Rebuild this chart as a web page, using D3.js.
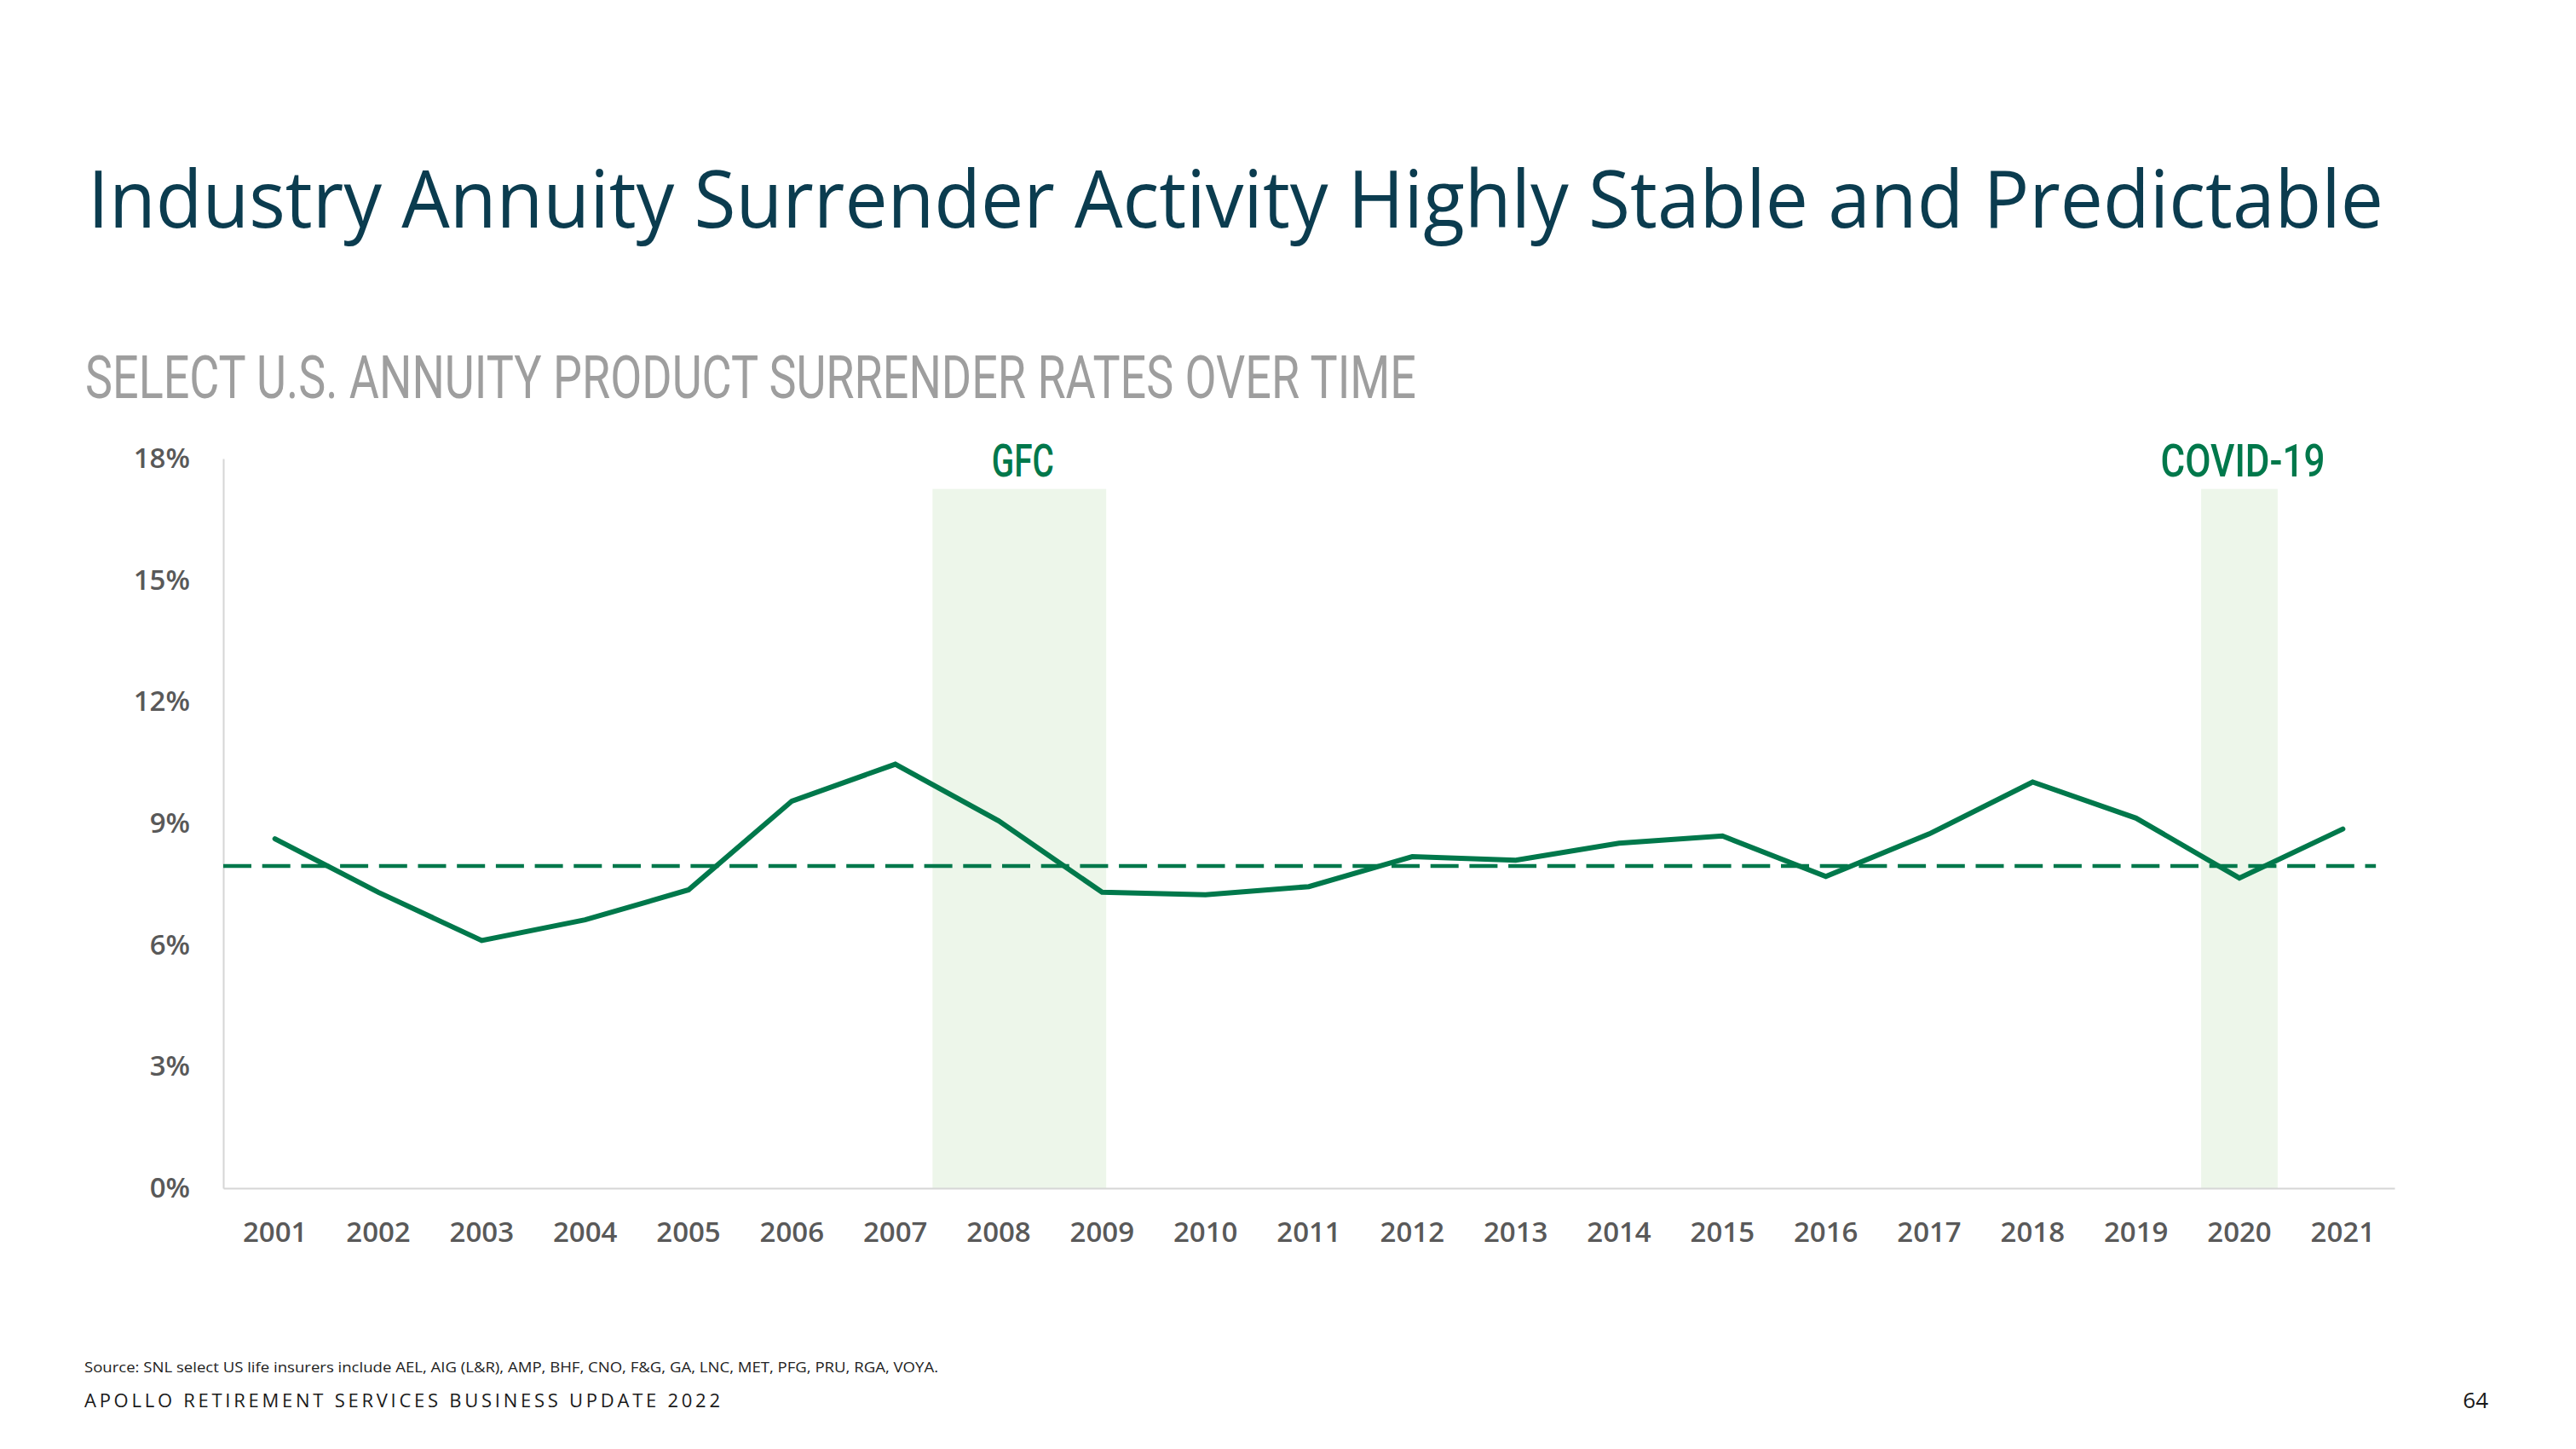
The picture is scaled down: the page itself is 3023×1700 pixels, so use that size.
<!DOCTYPE html>
<html>
<head>
<meta charset="utf-8">
<script src="https://cdn.jsdelivr.net/npm/d3@7"></script>
<style>
  html, body { margin: 0; padding: 0; background: #ffffff; }
  svg { display: block; }
</style>
</head>
<body>
<svg id="chart" width="3023" height="1700"></svg>
<script>
// ---------- data ----------
const years = [2001, 2002, 2003, 2004, 2005, 2006, 2007, 2008, 2009, 2010, 2011,
               2012, 2013, 2014, 2015, 2016, 2017, 2018, 2019, 2020, 2021];
const surrenderRates = [8.62, 7.30, 6.11, 6.62, 7.36, 9.55, 10.46, 9.06, 7.30, 7.24, 7.44,
                        8.18, 8.09, 8.51, 8.69, 7.69, 8.74, 10.02, 9.13, 7.65, 8.86];
const averageRate = 7.95;
const yTicks = [0, 3, 6, 9, 12, 15, 18];
const shadeLabels = ["GFC", "COVID-19"];
const shadeStarts = [2007.36, 2019.63];
const shadeEnds = [2009.04, 2020.37];
const shadeTop = 17.25;

const titleText = "Industry Annuity Surrender Activity Highly Stable and Predictable";
const subtitleText = "SELECT U.S. ANNUITY PRODUCT SURRENDER RATES OVER TIME";
const sourceText = "Source: SNL select US life insurers include AEL, AIG (L&R), AMP, BHF, CNO, F&G, GA, LNC, MET, PFG, PRU, RGA, VOYA.";
const footerText = "APOLLO RETIREMENT SERVICES BUSINESS UPDATE 2022";
const pageNumber = "64";

// ---------- layout ----------
const svg = d3.select("#chart");
const green = "#00784B";
const shadeColor = "#EDF6EA";
const labelGray = "#595959";
const plotLeft = 262, plotRight = 2810, plotTop = 538, plotBottom = 1394;

const x = d3.scaleBand().domain(years).range([plotLeft, plotRight]).padding(0);
const bw = x.bandwidth();
const xYear = d3.scaleLinear()
  .domain([years[0], years[years.length - 1]])
  .range([x(years[0]) + bw / 2, x(years[years.length - 1]) + bw / 2]);
const y = d3.scaleLinear().domain([0, 18]).range([plotBottom, plotTop]);

// title
svg.append("text")
  .attr("x", 103).attr("y", 267)
  .attr("font-family", "'Open Sans', 'Noto Sans', sans-serif")
  .attr("font-size", 94)
  .attr("fill", "#0B3C4F")
  .attr("textLength", 2694)
  .attr("lengthAdjust", "spacingAndGlyphs")
  .text(titleText);

// subtitle
svg.append("text")
  .attr("x", 100).attr("y", 467)
  .attr("font-family", "Roboto, 'Liberation Sans', sans-serif")
  .attr("font-weight", 400)
  .attr("font-size", 70)
  .attr("fill", "#9E9E9E")
  .attr("textLength", 1562)
  .attr("lengthAdjust", "spacingAndGlyphs")
  .text(subtitleText);

// shaded periods
const shades = shadeLabels.map((l, i) => ({label: l, s: shadeStarts[i], e: shadeEnds[i]}));
svg.append("g").selectAll("rect").data(shades).join("rect")
  .attr("x", d => xYear(d.s))
  .attr("y", y(shadeTop))
  .attr("width", d => xYear(d.e) - xYear(d.s))
  .attr("height", y(0) - y(shadeTop))
  .attr("fill", shadeColor);

svg.append("g").selectAll("text").data(shades).join("text")
  .attr("x", d => (xYear(d.s) + xYear(d.e)) / 2 + 4)
  .attr("y", 559)
  .attr("text-anchor", "middle")
  .attr("font-family", "Roboto, 'Liberation Sans', sans-serif")
  .attr("font-weight", 500)
  .attr("font-size", 54)
  .attr("fill", green)
  .attr("textLength", d => d.label === "GFC" ? 73 : 193)
  .attr("lengthAdjust", "spacingAndGlyphs")
  .text(d => d.label);

// y axis
const yAxis = svg.append("g")
  .attr("transform", `translate(${plotLeft},0)`)
  .call(d3.axisLeft(y).tickValues(yTicks).tickSize(0).tickPadding(39).tickFormat(d => d + "%"));
yAxis.select(".domain").attr("stroke", "#D6D6D6").attr("stroke-width", 2);
yAxis.selectAll("text")
  .attr("font-family", "'Open Sans', 'Noto Sans', sans-serif")
  .attr("font-weight", 600)
  .attr("font-size", 33)
  .attr("fill", labelGray);

// x axis
const xAxis = svg.append("g")
  .attr("transform", `translate(0,${plotBottom})`)
  .call(d3.axisBottom(x).tickSize(0).tickPadding(40));
xAxis.select(".domain").attr("stroke", "#D6D6D6").attr("stroke-width", 2);
xAxis.selectAll("text")
  .attr("font-family", "'Open Sans', 'Noto Sans', sans-serif")
  .attr("font-weight", 600)
  .attr("font-size", 33)
  .attr("fill", labelGray);

// average dashed line
svg.append("line")
  .attr("x1", plotLeft)
  .attr("x2", xYear(years[years.length - 1]) + bw * 0.32)
  .attr("y1", y(averageRate)).attr("y2", y(averageRate))
  .attr("stroke", green)
  .attr("stroke-width", 4.5)
  .attr("stroke-dasharray", "33,12.7");

// main line
const pts = years.map((yr, i) => ({year: yr, v: surrenderRates[i]}));
svg.append("path")
  .datum(pts)
  .attr("fill", "none")
  .attr("stroke", green)
  .attr("stroke-width", 6)
  .attr("stroke-linejoin", "miter")
  .attr("stroke-linecap", "round")
  .attr("d", d3.line().x(d => x(d.year) + bw / 2).y(d => y(d.v)));

// footer
svg.append("text")
  .attr("x", 99).attr("y", 1610)
  .attr("font-family", "'Open Sans', 'Noto Sans', sans-serif")
  .attr("font-size", 16)
  .attr("fill", "#222")
  .attr("textLength", 1002)
  .attr("lengthAdjust", "spacingAndGlyphs")
  .text(sourceText);

svg.append("text")
  .attr("x", 99).attr("y", 1651)
  .attr("font-family", "'Open Sans', 'Noto Sans', sans-serif")
  .attr("font-size", 22)
  .attr("fill", "#1a1a1a")
  .attr("textLength", 746)
  .attr("lengthAdjust", "spacing")
  .text(footerText);

svg.append("text")
  .attr("x", 2920).attr("y", 1652)
  .attr("text-anchor", "end")
  .attr("font-family", "'Open Sans', 'Noto Sans', sans-serif")
  .attr("font-size", 26)
  .attr("fill", "#1a1a1a")
  .text(pageNumber);
</script>
</body>
</html>
